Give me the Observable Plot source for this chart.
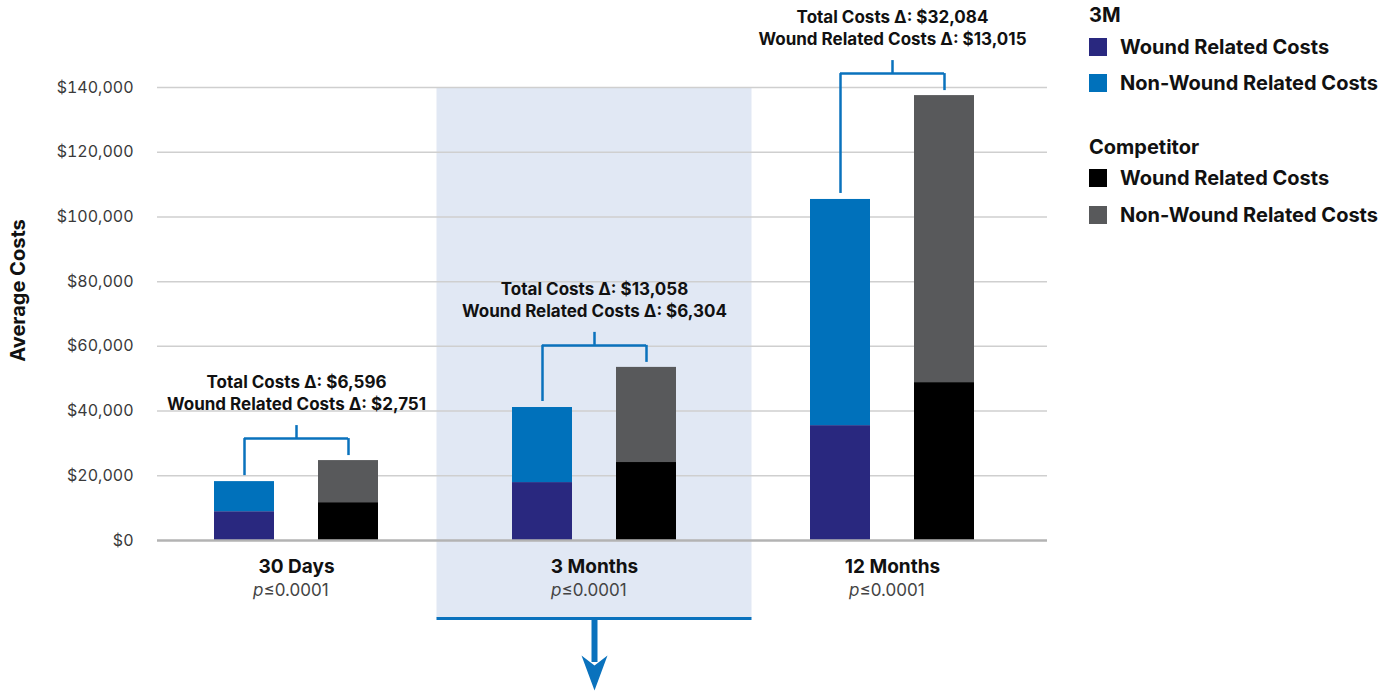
<!DOCTYPE html>
<html>
<head>
<meta charset="utf-8">
<script src="https://cdn.jsdelivr.net/npm/d3@7"></script>
<script src="https://cdn.jsdelivr.net/npm/@observablehq/plot@0.6"></script>
<style>
  html, body { margin: 0; padding: 0; background: #fff; }
  #wrap { position: relative; width: 1400px; height: 693px; font-family: Inter, "Open Sans", sans-serif; }
  .lg { position: absolute; font-weight: 700; font-size: 20px; color: #111; line-height: 24px; white-space: nowrap; }
  .sw { position: absolute; width: 18px; height: 18px; }
</style>
</head>
<body>
<div id="wrap"></div>
<script>
// ---- data ----
const periods = ["30 Days", "3 Months", "12 Months"];
const m3Wound = [8900, 17900, 35500];
const m3NonWound = [9300, 23200, 69900];
const compWound = [11700, 24100, 48800];
const compNonWound = [13000, 29400, 88700];
const totalDelta = [6596, 13058, 32084];
const woundDelta = [2751, 6304, 13015];
const pLabel = ["≤0.0001", "≤0.0001", "≤0.0001"];
const yTicks = [0, 20000, 40000, 60000, 80000, 100000, 120000, 140000];

const colors = {
  m3Wound: "#29287f", m3Non: "#0071bb",
  compWound: "#000000", compNon: "#58595b"
};

// ---- layout ----
const W = 1400, H = 693;
const mTop = 87, mBottom = 153, mLeft = 157, mRight = 353;
const yMax = 140000;
const k = yMax / (H - mTop - mBottom); // data units per pixel
const half = 52; // px offset of each bar from group center

const rows3M = [], rowsComp = [];
periods.forEach((p, i) => {
  rows3M.push({period: p, value: m3Wound[i], fill: colors.m3Wound});
  rows3M.push({period: p, value: m3NonWound[i], fill: colors.m3Non});
  rowsComp.push({period: p, value: compWound[i], fill: colors.compWound});
  rowsComp.push({period: p, value: compNonWound[i], fill: colors.compNon});
});

const ann = periods.map((p, i) => {
  const t3 = m3Wound[i] + m3NonWound[i];
  const tc = compWound[i] + compNonWound[i];
  const level = Math.max(t3, tc) + 22 * k;
  return {period: p, t3: t3 + 6 * k, tc: tc + 5 * k, level, top: level + 13 * k,
          l1: "Total Costs Δ: $" + d3.format(",")(totalDelta[i]),
          l2: "Wound Related Costs Δ: $" + d3.format(",")(woundDelta[i])};
});

const blue = "#0a72bd";
const hiBottom = -78 * k;

// filled, notched arrowhead pointing down (custom symbol)
const arrowHead = {
  draw(ctx) {
    ctx.moveTo(0, 18);
    ctx.lineTo(-13, -17);
    ctx.lineTo(0, -7);
    ctx.lineTo(13, -17);
    ctx.closePath();
  }
};

const chart = Plot.plot({
  width: W, height: H,
  marginTop: mTop, marginBottom: mBottom, marginLeft: mLeft, marginRight: mRight,
  style: {fontFamily: "Inter, 'Open Sans', sans-serif", fontSize: "16px", color: "#3a3a3a", overflow: "visible", background: "transparent"},
  x: {domain: periods, paddingInner: 0.7993, paddingOuter: 0.388, align: 0.467, axis: null},
  y: {domain: [0, yMax], ticks: yTicks, tickFormat: d => "$" + d3.format(",")(d), tickSize: 0, tickPadding: 24, label: null},
  color: {type: "identity"},
  marks: [
    // highlight band
    Plot.barY([periods[1]], {x: d => d, y1: yMax, y2: hiBottom, fill: "#e1e8f4", insetLeft: -127.5, insetRight: -127.5}),
    Plot.tickY([periods[1]], {x: d => d, y: hiBottom, stroke: blue, strokeWidth: 3, insetLeft: -127.5, insetRight: -127.5}),
    Plot.ruleX([periods[1]], {x: d => d, y1: hiBottom, y2: -122 * k, stroke: blue, strokeWidth: 6}),
    Plot.dot([periods[1]], {x: d => d, y: -132 * k, symbol: arrowHead, r: 10, fill: blue, stroke: "none"}),
    // grid
    Plot.ruleY(yTicks.slice(1), {stroke: "#cfcfcf", strokeWidth: 1.5}),
    // bars
    Plot.barY(rows3M, {x: "period", y: "value", fill: "fill", dx: -half}),
    Plot.barY(rowsComp, {x: "period", y: "value", fill: "fill", dx: half}),
    Plot.ruleY([0], {stroke: "#b3b3b3", strokeWidth: 2.5}),
    // brackets
    Plot.tickY(ann, {x: "period", y: "level", stroke: blue, strokeWidth: 2.5, insetLeft: -22, insetRight: -22}),
    Plot.ruleX(ann, {x: "period", y1: "t3", y2: "level", stroke: blue, strokeWidth: 2.5, dx: -half}),
    Plot.ruleX(ann, {x: "period", y1: "tc", y2: "level", stroke: blue, strokeWidth: 2.5, dx: half}),
    Plot.ruleX(ann, {x: "period", y1: "level", y2: "top", stroke: blue, strokeWidth: 2.5}),
    Plot.text(ann, {x: "period", y: "level", text: "l1", dy: -56, fontWeight: 700, fontSize: 17, fill: "#111"}),
    Plot.text(ann, {x: "period", y: "level", text: "l2", dy: -34, fontWeight: 700, fontSize: 17, fill: "#111"}),
    // x labels
    Plot.text(periods, {x: d => d, frameAnchor: "bottom", dy: 32, fontWeight: 700, fontSize: 19, fill: "#111"}),
    Plot.text(periods, {x: d => d, text: () => "p", frameAnchor: "bottom", dy: 55, dx: -33, textAnchor: "end", fontStyle: "italic", fontSize: 17, fill: "#444"}),
    Plot.text(periods.map((p, i) => ({p, t: pLabel[i]})), {x: "p", text: "t", frameAnchor: "bottom", dy: 55, dx: -33, textAnchor: "start", fontSize: 17, fill: "#444"}),
    // y label
    Plot.text(["Average Costs"], {frameAnchor: "left", textAnchor: "middle", rotate: -90, dx: -139, dy: -23.5, fontWeight: 700, fontSize: 20, fill: "#111"})
  ]
});

const wrap = document.getElementById("wrap");
wrap.appendChild(chart);

// legend
const legend = [
  {type: "h", text: "3M", y: 15},
  {type: "i", text: "Wound Related Costs", color: colors.m3Wound, y: 47},
  {type: "i", text: "Non-Wound Related Costs", color: colors.m3Non, y: 83},
  {type: "h", text: "Competitor", y: 147},
  {type: "i", text: "Wound Related Costs", color: colors.compWound, y: 178},
  {type: "i", text: "Non-Wound Related Costs", color: colors.compNon, y: 215}
];
legend.forEach(d => {
  const t = document.createElement("div");
  t.className = "lg";
  t.textContent = d.text;
  t.style.left = (d.type === "h" ? 1089 : 1120) + "px";
  t.style.top = (d.y - 12) + "px";
  wrap.appendChild(t);
  if (d.type === "i") {
    const s = document.createElement("div");
    s.className = "sw";
    s.style.left = "1089px";
    s.style.top = (d.y - 9) + "px";
    s.style.background = d.color;
    wrap.appendChild(s);
  }
});
</script>
</body>
</html>
